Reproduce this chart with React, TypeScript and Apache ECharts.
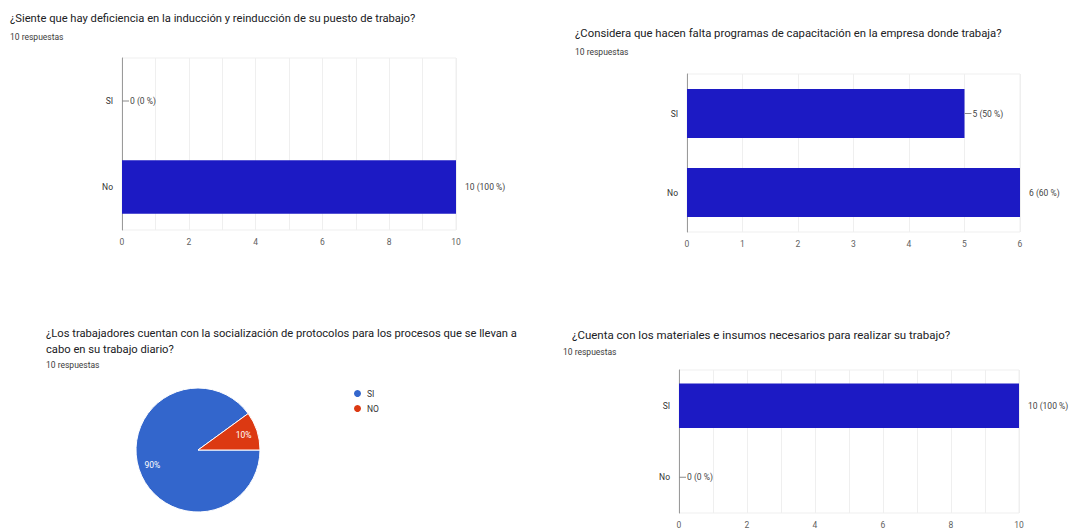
import React, { useEffect, useRef } from 'react';
import * as echarts from 'echarts';

const respondents = 10;
const responsesText = '10 respuestas';

const q1Title = '¿Siente que hay deficiencia en la inducción y reinducción de su puesto de trabajo?';
const q1Categories = ['SI', 'No'];
const q1Values = [0, 10];
const q1Max = 10;
const q1LabelStep = 2;

const q2Title = '¿Considera que hacen falta programas de capacitación en la empresa donde trabaja?';
const q2Categories = ['SI', 'No'];
const q2Values = [5, 6];
const q2Max = 6;
const q2LabelStep = 1;

const q3Title = '¿Los trabajadores cuentan con la socialización de protocolos para los procesos que se llevan a\ncabo en su trabajo diario?';
const q3Names = ['SI', 'NO'];
const q3Values = [9, 1];

const q4Title = '¿Cuenta con los materiales e insumos necesarios para realizar su trabajo?';
const q4Categories = ['SI', 'No'];
const q4Values = [10, 0];
const q4Max = 10;
const q4LabelStep = 2;

const FONT = 'Roboto, "Noto Sans", Arial, sans-serif';
const BAR = '#1c1ac4';
const PIE_COLORS = ['#3366cc', '#dc3912'];

function titleItem(text: string, left: number, top: number, size: number, color: string, lh?: number) {
  return {
    text,
    left,
    top,
    padding: 0,
    textStyle: {
      fontFamily: FONT,
      fontSize: size,
      fontWeight: 'normal',
      color,
      lineHeight: lh ?? Math.round(size * 1.3),
    },
  };
}

function xAxis(gridIndex: number, max: number, step: number) {
  return {
    type: 'value',
    gridIndex,
    min: 0,
    max,
    interval: 1,
    axisLine: { show: false },
    axisTick: { show: false },
    splitLine: { show: true, lineStyle: { color: '#efefef', width: 1 } },
    axisLabel: {
      margin: 7,
      fontSize: 8.5,
      fontFamily: FONT,
      color: '#5f5f5f',
      formatter: (v: number) => (v % step === 0 ? String(v) : ''),
    },
  };
}

function yAxis(gridIndex: number, data: string[]) {
  return {
    type: 'category',
    gridIndex,
    data,
    inverse: true,
    axisLine: { show: true, lineStyle: { color: '#9a9a9a', width: 1 } },
    axisTick: { show: false },
    splitLine: { show: false },
    axisLabel: { margin: 9, fontSize: 8.5, fontFamily: FONT, color: '#333' },
  };
}

function barSeries(index: number, values: number[], max: number) {
  return {
    type: 'bar',
    xAxisIndex: index,
    yAxisIndex: index,
    data: values,
    barWidth: '62%',
    itemStyle: { color: BAR },
    label: {
      show: true,
      position: 'right',
      distance: 0,
      fontFamily: FONT,
      fontSize: 8.5,
      color: '#444',
      formatter: (p: any) => {
        const v = p.value as number;
        const txt = `${v} (${Math.round((v / respondents) * 100)} %)`;
        return v < max ? `{l| }{g| }{t|${txt}}` : `{n| }{t|${txt}}`;
      },
      rich: {
        l: { width: 7, height: 1, backgroundColor: '#8a8a8a', verticalAlign: 'middle' },
        g: { width: 1, verticalAlign: 'middle' },
        n: { width: 9, verticalAlign: 'middle' },
        t: { fontFamily: FONT, fontSize: 8.5, color: '#444', verticalAlign: 'middle' },
      },
    },
  };
}

export default function App() {
  const ref = useRef<HTMLDivElement>(null);
  useEffect(() => {
    document.body.style.margin = '0';
    const chart = echarts.init(ref.current!, null, { renderer: 'svg' });
    const option: any = {
      animation: false,
      backgroundColor: '#ffffff',
      title: [
        titleItem(q1Title, 10, 11, 11.2, '#202124'),
        titleItem(responsesText, 10, 31, 8.5, '#3c3c3c'),
        titleItem(q2Title, 575, 26, 11.3, '#202124'),
        titleItem(responsesText, 575, 46, 8.5, '#3c3c3c'),
        titleItem(q3Title, 46, 325, 11.2, '#202124', 16),
        titleItem(responsesText, 46, 359, 8.5, '#3c3c3c'),
        titleItem(q4Title, 572, 327, 11.5, '#202124'),
        titleItem(responsesText, 563, 346, 8.5, '#3c3c3c'),
      ],
      grid: [
        { left: 122, top: 58, width: 334, height: 172, show: true, borderColor: '#efefef', borderWidth: 1, backgroundColor: 'transparent' },
        { left: 687, top: 74, width: 333, height: 158, show: true, borderColor: '#efefef', borderWidth: 1, backgroundColor: 'transparent' },
        { left: 679, top: 370, width: 340, height: 144, show: true, borderColor: '#efefef', borderWidth: 1, backgroundColor: 'transparent' },
      ],
      xAxis: [xAxis(0, q1Max, q1LabelStep), xAxis(1, q2Max, q2LabelStep), xAxis(2, q4Max, q4LabelStep)],
      yAxis: [yAxis(0, q1Categories), yAxis(1, q2Categories), yAxis(2, q4Categories)],
      legend: {
        data: q3Names,
        orient: 'vertical',
        left: 352,
        top: 388,
        padding: 0,
        icon: 'circle',
        itemWidth: 9,
        itemHeight: 9,
        itemGap: 4,
        textStyle: { fontFamily: FONT, fontSize: 8.5, color: '#333' },
      },
      series: [
        barSeries(0, q1Values, q1Max),
        barSeries(1, q2Values, q2Max),
        barSeries(2, q4Values, q4Max),
        {
          type: 'pie',
          center: [198, 450],
          radius: 62,
          startAngle: 36,
          clockwise: false,
          color: PIE_COLORS,
          label: { show: false },
          labelLine: { show: false },
          itemStyle: { borderColor: '#ffffff', borderWidth: 1 },
          data: q3Names.map((n, i) => ({ name: n, value: q3Values[i] })),
        },
        {
          type: 'pie',
          center: [198, 450],
          radius: 90,
          startAngle: 36,
          clockwise: false,
          silent: true,
          itemStyle: { color: 'transparent' },
          label: {
            show: true,
            position: 'inside',
            formatter: '{d}%',
            fontFamily: FONT,
            fontSize: 8.5,
            color: '#ffffff',
          },
          labelLine: { show: false },
          data: q3Names.map((n, i) => ({ name: `${n} `, value: q3Values[i] })),
        },
      ],
    };
    chart.setOption(option);
    return () => chart.dispose();
  }, []);
  return <div ref={ref} style={{ width: 1072, height: 529 }} />;
}
